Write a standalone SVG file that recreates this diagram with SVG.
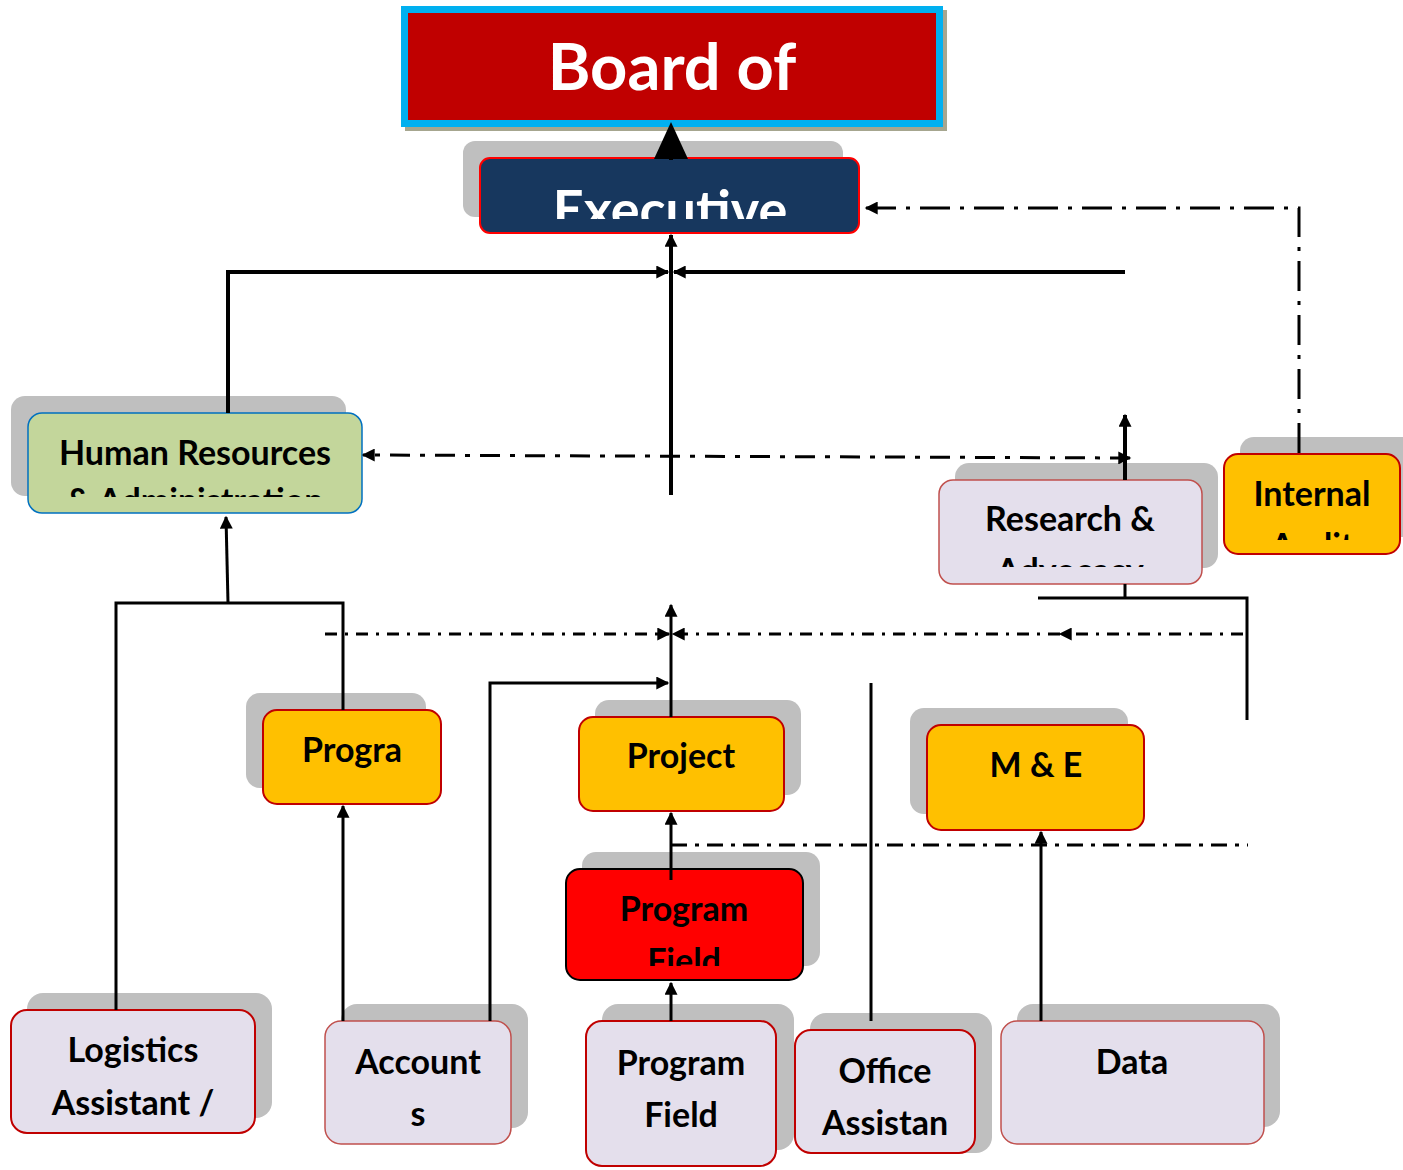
<svg xmlns="http://www.w3.org/2000/svg" width="1403" height="1170" viewBox="0 0 1403 1170">
<style>
.sh{fill:#BFBFBF}
.t{font-family:Lato,"Open Sans","Liberation Sans",sans-serif;font-weight:bold;font-size:34px;fill:#000;text-anchor:middle}
.lav{fill:#E4DFEC}
.org{fill:#FFC000;stroke:#C00000;stroke-width:2}
.ln{fill:none;stroke:#000;stroke-width:4}
.dd{fill:none;stroke:#000;stroke-width:3}
</style>
<defs>
<marker id="ah" viewBox="0 0 10 10" refX="9" refY="5" markerWidth="14" markerHeight="13" markerUnits="userSpaceOnUse" orient="auto-start-reverse"><path d="M0,0 L10,5 L0,10 z" fill="#000"/></marker>
<clipPath id="cExec"><rect x="480" y="158" width="379" height="61"/></clipPath>
<clipPath id="cHR"><rect x="28" y="413" width="334" height="84"/></clipPath>
<clipPath id="cRA"><rect x="939" y="480" width="263" height="87"/></clipPath>
<clipPath id="cIA"><rect x="1224" y="454" width="176" height="86"/></clipPath>
<clipPath id="cPF"><rect x="566" y="869" width="237" height="97"/></clipPath>
</defs>
<rect width="1403" height="1170" fill="#fff"/>

<g id="board">
<rect x="405" y="10" width="542" height="121" fill="#A6A68F"/>
<rect x="404.5" y="9.5" width="535" height="114" fill="#C00000" stroke="#00B0F0" stroke-width="7"/>
<text x="672" y="90" font-family="Lato,'Open Sans','Liberation Sans',sans-serif" font-weight="bold" font-size="65" fill="#fff" text-anchor="middle">Board of</text>
</g>

<g id="executive">
<rect class="sh" x="463" y="141" width="380" height="76" rx="12"/>
<rect x="480" y="158" width="379" height="75" rx="10" fill="#17375E" stroke="#FF0000" stroke-width="2"/>
<text clip-path="url(#cExec)" x="670" y="229" font-family="Lato,'Open Sans','Liberation Sans',sans-serif" font-weight="bold" font-size="54" fill="#fff" text-anchor="middle">Executive</text>
</g>

<g id="hr">
<rect class="sh" x="11" y="396" width="335" height="100" rx="14"/>
<rect x="28" y="413" width="334" height="100" rx="14" fill="#C3D69B" stroke="#0070C0" stroke-width="1.5"/>
<g clip-path="url(#cHR)">
<text class="t" x="195" y="465">Human Resources</text>
<text class="t" x="195" y="513">&amp; Administration</text>
</g>
</g>

<g id="research">
<rect class="sh" x="955" y="463" width="263" height="105" rx="14"/>
<rect class="lav" x="939" y="480" width="263" height="104" rx="14" stroke="#C0504D" stroke-width="1.5"/>
<g clip-path="url(#cRA)">
<text class="t" x="1070" y="531">Research &amp;</text>
<text class="t" x="1070" y="583">Advocacy</text>
</g>
</g>

<g id="internal">
<rect class="sh" x="1240" y="437" width="180" height="100" rx="14"/>
<rect class="org" x="1224" y="454" width="176" height="100" rx="14"/>
<g clip-path="url(#cIA)">
<text class="t" x="1312" y="506">Internal</text>
<text class="t" x="1312" y="558">Audit</text>
</g>
</g>

<g id="progra">
<rect class="sh" x="246" y="693" width="180" height="95" rx="14"/>
<rect class="org" x="263" y="710" width="178" height="94" rx="14"/>
<text class="t" x="352" y="762">Progra</text>
</g>

<g id="project">
<rect class="sh" x="595" y="700" width="206" height="95" rx="14"/>
<rect class="org" x="579" y="717" width="205" height="94" rx="14"/>
<text class="t" x="681" y="768">Project</text>
</g>

<g id="me">
<rect class="sh" x="910" y="708" width="218" height="106" rx="14"/>
<rect class="org" x="927" y="725" width="217" height="105" rx="14"/>
<text class="t" x="1036" y="777">M &amp; E</text>
</g>

<g id="programfield-red">
<rect class="sh" x="582" y="852" width="238" height="114" rx="14"/>
<rect x="566" y="869" width="237" height="111" rx="14" fill="#FF0000" stroke="#000" stroke-width="2"/>
<g clip-path="url(#cPF)">
<text class="t" x="684" y="921">Program</text>
<text class="t" x="684" y="973">Field</text>
</g>
</g>

<g id="logistics">
<rect class="sh" x="27" y="993" width="245" height="125" rx="16"/>
<rect class="lav" x="11" y="1010" width="244" height="123" rx="16" stroke="#C00000" stroke-width="2"/>
<text class="t" x="133" y="1062">Logistics</text>
<text class="t" x="133" y="1115">Assistant /</text>
</g>

<g id="accounts">
<rect class="sh" x="341" y="1004" width="187" height="124" rx="16"/>
<rect class="lav" x="325" y="1021" width="186" height="123" rx="16" stroke="#C0504D" stroke-width="1.5"/>
<text class="t" x="418" y="1074">Account</text>
<text class="t" x="418" y="1126">s</text>
</g>

<g id="programfield">
<rect class="sh" x="602" y="1004" width="192" height="146" rx="16"/>
<rect class="lav" x="586" y="1021" width="190" height="145" rx="16" stroke="#C00000" stroke-width="2"/>
<text class="t" x="681" y="1075">Program</text>
<text class="t" x="681" y="1127">Field</text>
</g>

<g id="office">
<rect class="sh" x="810" y="1013" width="182" height="140" rx="16"/>
<rect class="lav" x="795" y="1030" width="180" height="123" rx="16" stroke="#C00000" stroke-width="2"/>
<text class="t" x="885" y="1083">Office</text>
<text class="t" x="885" y="1135">Assistan</text>
</g>

<g id="data">
<rect class="sh" x="1017" y="1004" width="263" height="123" rx="16"/>
<rect class="lav" x="1001" y="1021" width="263" height="123" rx="16" stroke="#C0504D" stroke-width="1.5"/>
<text class="t" x="1132" y="1074">Data</text>
</g>

<g id="connectors">
<path class="ln" d="M671,160 V140"/>
<polygon points="654,159 688,159 671,122" fill="#000"/>
<path class="ln" d="M228,413 V272 H668" marker-end="url(#ah)"/>
<path class="ln" d="M1125,272 H674" marker-end="url(#ah)"/>
<path class="ln" d="M671,495 V235" marker-end="url(#ah)"/>
<path class="dd" d="M1299,453 V208 H866" stroke-dasharray="30 10 4 10" marker-end="url(#ah)"/>
<path class="dd" stroke-width="4.5" d="M1130,458 L363,455" stroke-dasharray="20 10 5 10" marker-start="url(#ah)" marker-end="url(#ah)"/>
<path class="ln" d="M1125,480 V415" marker-end="url(#ah)"/>
<path class="dd" d="M1125,584 V598 M1038,598 H1247 V720"/>
<path class="dd" stroke-dasharray="12 8 3 8" d="M325,634 H669" marker-end="url(#ah)"/>
<path class="dd" stroke-dasharray="12 8 3 8" d="M1243,634 H1060" marker-end="url(#ah)"/>
<path class="dd" stroke-dasharray="12 8 3 8" d="M1060,634 H673" marker-end="url(#ah)"/>
<path class="dd" d="M671,717 V605" marker-end="url(#ah)"/>
<path class="dd" d="M116,1010 V603 H343 V710"/>
<path class="dd" d="M228,603 L226,517" marker-end="url(#ah)"/>
<path class="dd" d="M343,1021 V806" marker-end="url(#ah)"/>
<path class="dd" d="M490,1021 V683 H668" marker-end="url(#ah)"/>
<path class="dd" d="M671,880 V813" marker-end="url(#ah)"/>
<path class="dd" stroke-width="3.5" stroke-dasharray="16 8 4 8" d="M671,845 H1248"/>
<path class="dd" d="M871,683 V1021"/>
<path class="dd" d="M1041,1021 V832" marker-end="url(#ah)"/>
<path class="dd" d="M671,1021 V983" marker-end="url(#ah)"/>
</g>
</svg>
